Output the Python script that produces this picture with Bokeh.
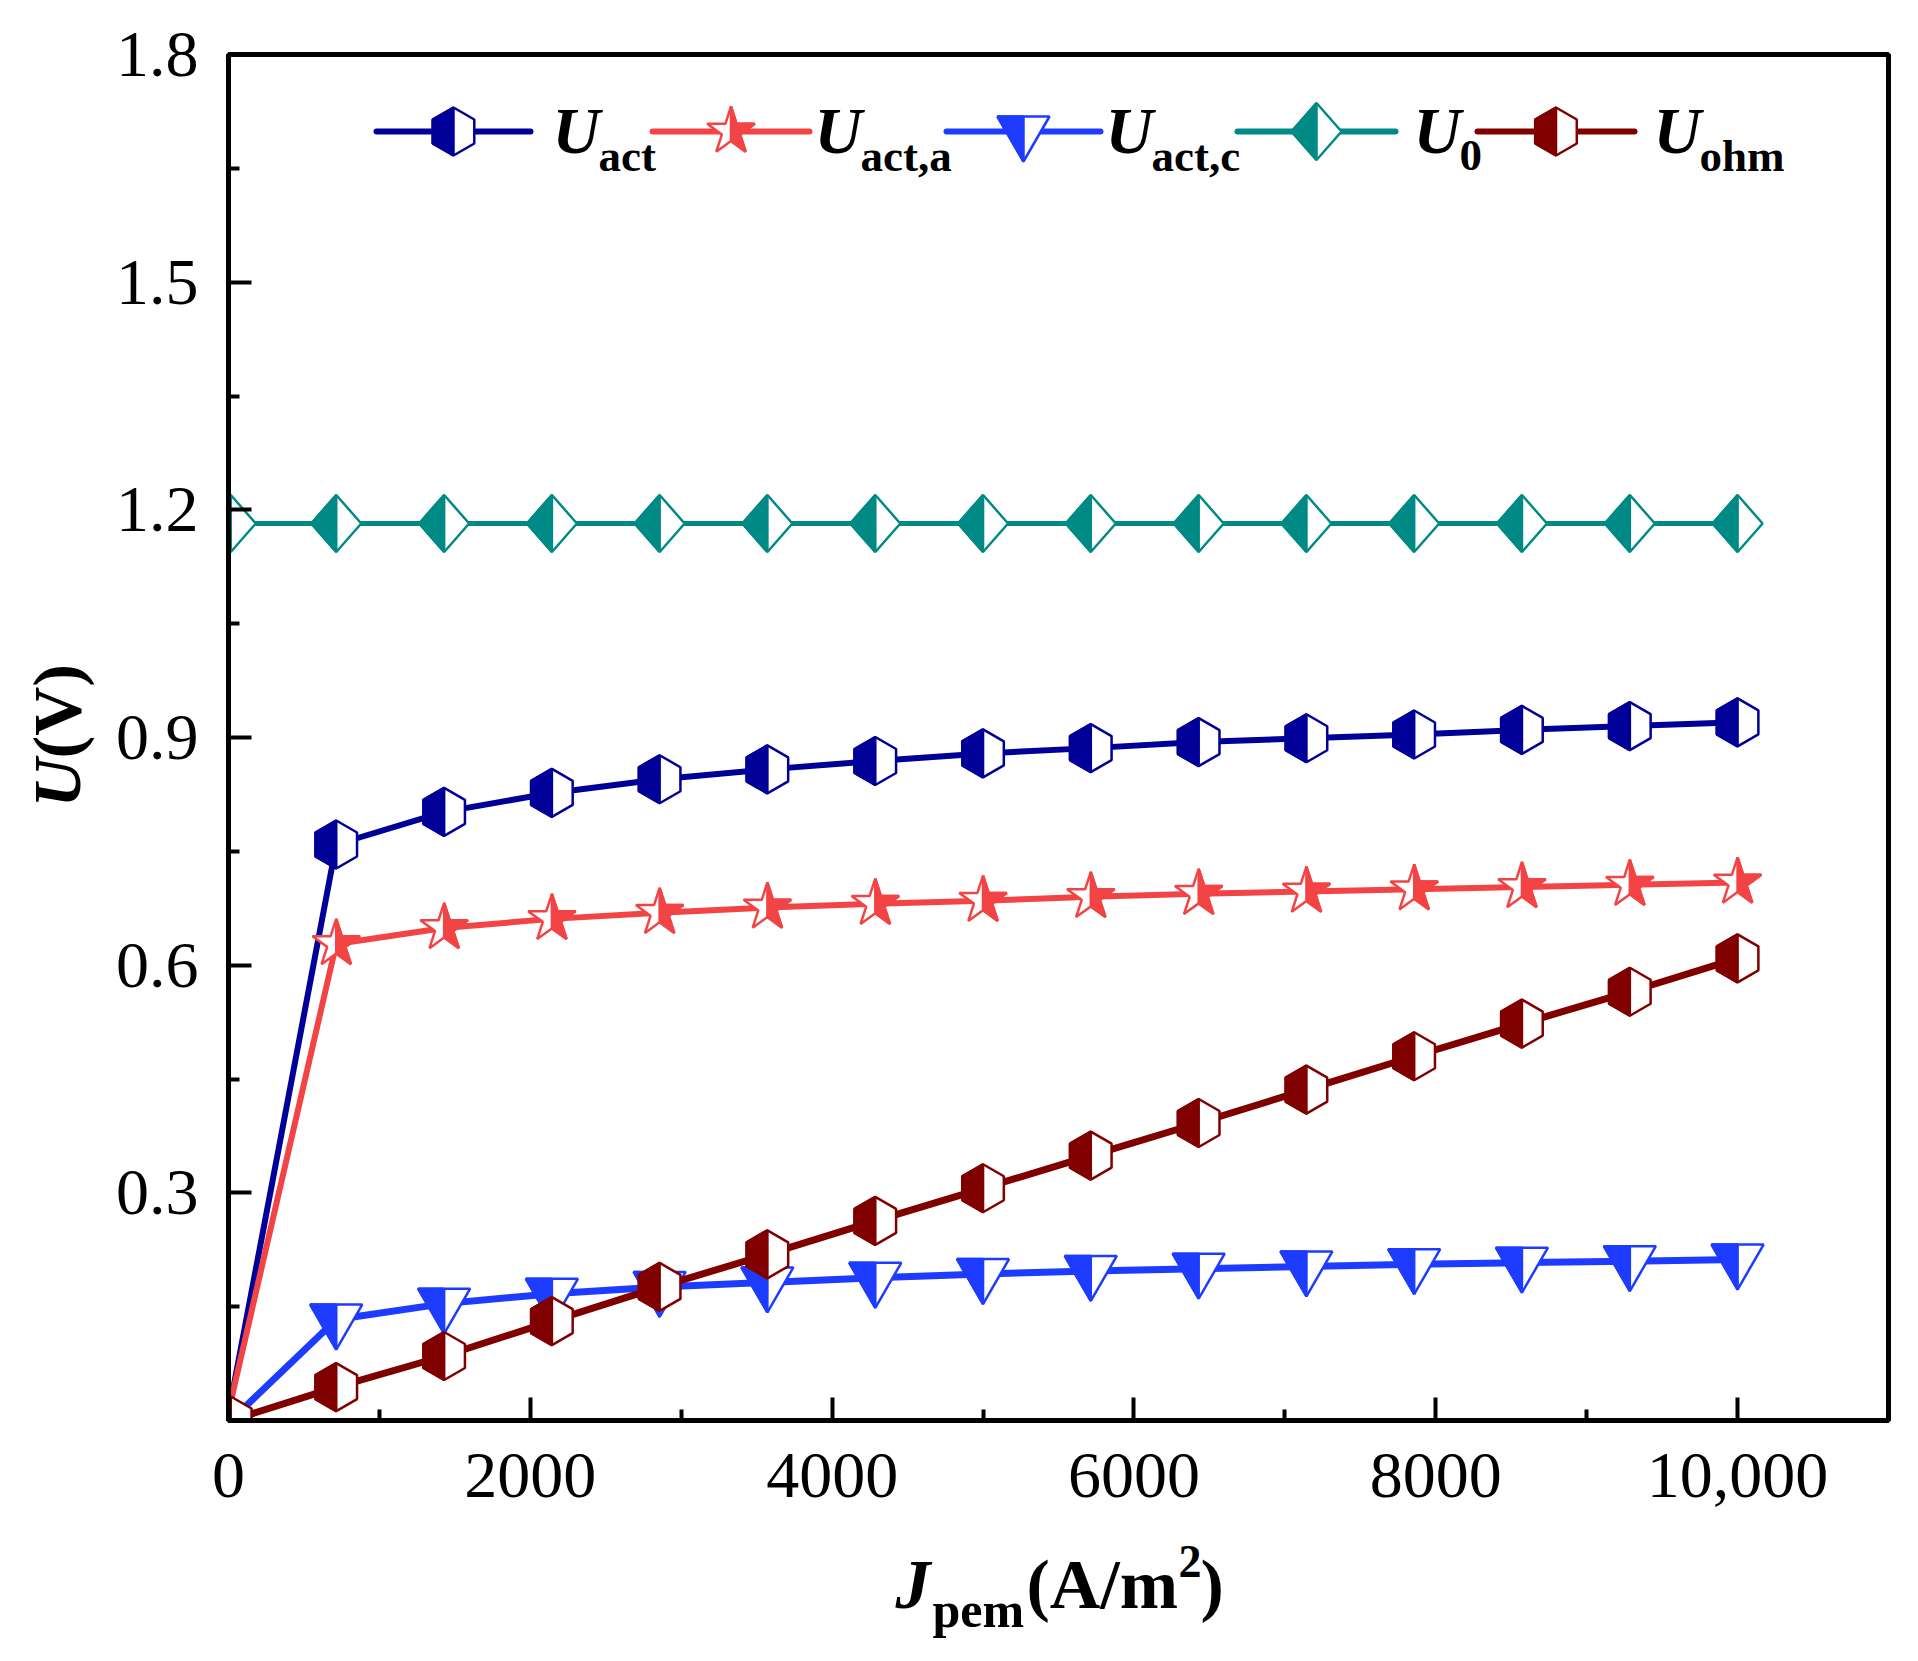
import math

from bokeh.embed import file_html
from bokeh.layouts import column, row
from bokeh.models import FixedTicker, Label, NumeralTickFormatter, Range1d
from bokeh.plotting import figure
from bokeh.resources import INLINE

# ── Data ──────────────────────────────────────────────────────────────────────
J_PEM = [15, 714, 1429, 2143, 2857, 3571, 4286, 5000, 5714, 6429, 7143, 7857, 8571, 9286, 10000]
U_ACT = [0.025, 0.759, 0.802, 0.827, 0.845, 0.858, 0.869, 0.879, 0.886, 0.894, 0.899, 0.904, 0.910, 0.915, 0.920]
U_ACT_A = [0.025, 0.628, 0.649, 0.661, 0.669, 0.676, 0.681, 0.685, 0.690, 0.694, 0.697, 0.700, 0.703, 0.706, 0.709]
U_ACT_C = [0.0, 0.133, 0.154, 0.167, 0.176, 0.182, 0.188, 0.193, 0.197, 0.200, 0.203, 0.206, 0.208, 0.210, 0.212]
U_0 = [1.182, 1.182, 1.182, 1.182, 1.182, 1.182, 1.182, 1.182, 1.182, 1.182, 1.182, 1.182, 1.182, 1.182, 1.182]
U_OHM = [0.0, 0.044, 0.085, 0.131, 0.176, 0.219, 0.263, 0.306, 0.349, 0.392, 0.436, 0.480, 0.523, 0.565, 0.609]

X_TICKS = [0, 2000, 4000, 6000, 8000, 10000]
X_LABELS = ["0", "2000", "4000", "6000", "8000", "10,000"]
X_MINOR = [1000, 3000, 5000, 7000, 9000]
Y_TICKS = [0.3, 0.6, 0.9, 1.2, 1.5, 1.8]
Y_MINOR = [0.15, 0.45, 0.75, 1.05, 1.35, 1.65]

# ── Series styling ────────────────────────────────────────────────────────────
SERIES = [
    # values, color, marker, line width, legend subscript, marker on first point
    (U_ACT, "#000099", "hex", 6, "act", False),
    (U_ACT_A, "#F24444", "star", 6, "act,a", False),
    (U_ACT_C, "#1E3CFF", "tri", 7, "act,c", False),
    (U_0, "#008A85", "diamond", 5, "0", True),
    (U_OHM, "#800000", "hex", 7, "ohm", True),
]

FONT = "Liberation Serif"
BASELINE_FIX = 0.37  # bokeh draws "alphabetic" text this many em lower

# ── Geometry (page pixels) ────────────────────────────────────────────────────
YLAB_W = 100
X_RANGE = (0, 11000)
Y_RANGE = (0, 1.8)
FRAME_W, FRAME_H = 1660, 1366
BORDER_L, BORDER_T, BORDER_R, BORDER_B = 128, 54, 20, 110
FRAME_LEFT = YLAB_W + BORDER_L
FRAME_BOTTOM = BORDER_T + FRAME_H
MAIN_H = BORDER_T + FRAME_H + BORDER_B
XLAB_H = 110
PX_X = FRAME_W / (X_RANGE[1] - X_RANGE[0])
PX_Y = FRAME_H / (Y_RANGE[1] - Y_RANGE[0])


def to_data(px, py):
    """Page pixel position -> data coordinates of the main plot."""
    return X_RANGE[0] + (px - FRAME_LEFT) / PX_X, Y_RANGE[0] + (FRAME_BOTTOM - py) / PX_Y


def _star(r_out, right_half=False):
    r_in = r_out * 0.382
    pts = []
    for k in range(10):
        a = math.radians(90 - 36 * k)
        r = r_out if k % 2 == 0 else r_in
        pts.append((r * math.cos(a), r * math.sin(a)))
    return pts[:6] if right_half else pts


_HW = 24 * math.sqrt(3) / 2
SHAPES = {
    "hex": (
        [(0, 24), (_HW, 12), (_HW, -12), (0, -24), (-_HW, -12), (-_HW, 12)],
        [(0, 24), (-_HW, 12), (-_HW, -12), (0, -24)],
    ),
    "diamond": (
        [(0, 28.5), (25, 0), (0, -28.5), (-25, 0)],
        [(0, 28.5), (-25, 0), (0, -28.5)],
    ),
    "tri": (
        [(-26, 15), (26, 15), (0, -30)],
        [(-26, 15), (0, 15), (0, -30)],
    ),
    "star": (_star(25), _star(25, right_half=True)),
}


def add_markers(p, xs, ys, kind, color):
    """Half-filled markers drawn as patches, sized in screen pixels."""
    full, half = SHAPES[kind]

    def polys(verts):
        return (
            [[x + dx / PX_X for dx, _ in verts] for x in xs],
            [[y + dy / PX_Y for _, dy in verts] for y in ys],
        )

    fx, fy = polys(full)
    p.patches(fx, fy, fill_color="white", line_color=color, line_width=2.5)
    hx, hy = polys(half)
    p.patches(hx, hy, fill_color=color, line_color=color, line_width=2.5)


def label(x, y, text, size, style, angle=0.0):
    return Label(
        x=x, y=y, text=text, angle=angle,
        text_font=FONT, text_font_size=f"{size}px", text_font_style=style,
        text_color="black", text_align="left", text_baseline="alphabetic",
    )


def add_text(p, px, py, text, size, style="bold"):
    x, y = to_data(px, py - BASELINE_FIX * size)
    p.add_layout(label(x, y, text, size, style))


def title_figure(x_span, y_span, borders, pieces):
    """Blank figure whose data units are page pixels (y negated)."""
    left, right = x_span
    top, bottom = y_span
    bl, br, bt, bb = borders
    f = figure(
        frame_width=right - left, frame_height=bottom - top,
        x_range=Range1d(left, right), y_range=Range1d(-bottom, -top),
        x_axis_location=None, y_axis_location=None,
        min_border_left=bl, min_border_right=br,
        min_border_top=bt, min_border_bottom=bb,
        toolbar_location=None, output_backend="svg",
        outline_line_color=None, background_fill_color="white",
        border_fill_color="white",
    )
    f.grid.visible = False
    for px, py, text, size, style, angle in pieces:
        if angle:
            px -= BASELINE_FIX * size
        else:
            py -= BASELINE_FIX * size
        f.add_layout(label(px, -py, text, size, style, angle))
    return f


# ── Main figure ───────────────────────────────────────────────────────────────
p = figure(
    frame_width=FRAME_W, frame_height=FRAME_H,
    x_range=X_RANGE, y_range=Y_RANGE,
    min_border_left=BORDER_L, min_border_top=BORDER_T,
    min_border_right=BORDER_R, min_border_bottom=BORDER_B,
    toolbar_location=None, output_backend="svg",
    background_fill_color="white", border_fill_color="white",
)
p.grid.visible = False
p.outline_line_color = "black"
p.outline_line_width = 5

for ax in (p.xaxis[0], p.yaxis[0]):
    ax.axis_line_width = 5
    ax.major_tick_in = 23
    ax.major_tick_out = 0
    ax.minor_tick_in = 11
    ax.minor_tick_out = 0
    ax.major_tick_line_width = 4
    ax.minor_tick_line_width = 4
    ax.major_label_text_font = FONT
    ax.major_label_text_font_size = "66px"
    ax.major_label_text_color = "black"

p.xaxis.ticker = FixedTicker(ticks=X_TICKS, minor_ticks=X_MINOR)
p.xaxis.major_label_overrides = {t: lab for t, lab in zip(X_TICKS, X_LABELS)}
p.xaxis.major_label_standoff = 33
p.yaxis.ticker = FixedTicker(ticks=Y_TICKS, minor_ticks=Y_MINOR)
p.yaxis.formatter = NumeralTickFormatter(format="0.0")
p.yaxis.major_label_standoff = 30

# ── Series ────────────────────────────────────────────────────────────────────
for vals, color, kind, lw, sub, first_marker in SERIES:
    p.line(J_PEM, vals, line_color=color, line_width=lw)
    start = 0 if first_marker else 1
    add_markers(p, J_PEM[start:], vals[start:], kind, color)

# ── Legend (one row along the top of the frame) ───────────────────────────────
LEGEND_LINES = [(376, 530), (652, 809), (946, 1100), (1237, 1395), (1477, 1634)]
LEGEND_U_X = [552, 814, 1105, 1413, 1653]
LEGEND_Y = 131
for (x0, x1), ux, (vals, color, kind, lw, sub, _) in zip(LEGEND_LINES, LEGEND_U_X, SERIES):
    (dx0, dy), (dx1, _) = to_data(x0, LEGEND_Y), to_data(x1, LEGEND_Y)
    p.line([dx0, dx1], [dy, dy], line_color=color, line_width=6, line_cap="round")
    mx, _ = to_data((x0 + x1) / 2, LEGEND_Y)
    add_markers(p, [mx], [dy], kind, color)
    add_text(p, ux, 154, "U", 66, "bold italic")
    add_text(p, ux + 46, 172, sub, 45, "bold")

# ── Axis titles ───────────────────────────────────────────────────────────────
y_title = title_figure((0, YLAB_W), (BORDER_T, FRAME_BOTTOM), (0, 0, BORDER_T, BORDER_B), [
    (82, 807, "U", 68, "bold italic", math.pi / 2),
    (82, 758, "(V)", 68, "bold", math.pi / 2),
])
x_title = title_figure(
    (FRAME_LEFT, FRAME_LEFT + FRAME_W), (MAIN_H, MAIN_H + XLAB_H),
    (BORDER_L, BORDER_R, 0, 0), [
        (895, 1610, "J", 70, "bold italic", 0),
        (932, 1628, "pem", 50, "bold", 0),
        (1026, 1610, "(A/m", 70, "bold", 0),
        (1178, 1578, "2", 46, "bold", 0),
        (1200, 1610, ")", 70, "bold", 0),
    ],
)

layout = row(y_title, column(p, x_title))

open("out.html", "w").write(file_html(layout, INLINE))
